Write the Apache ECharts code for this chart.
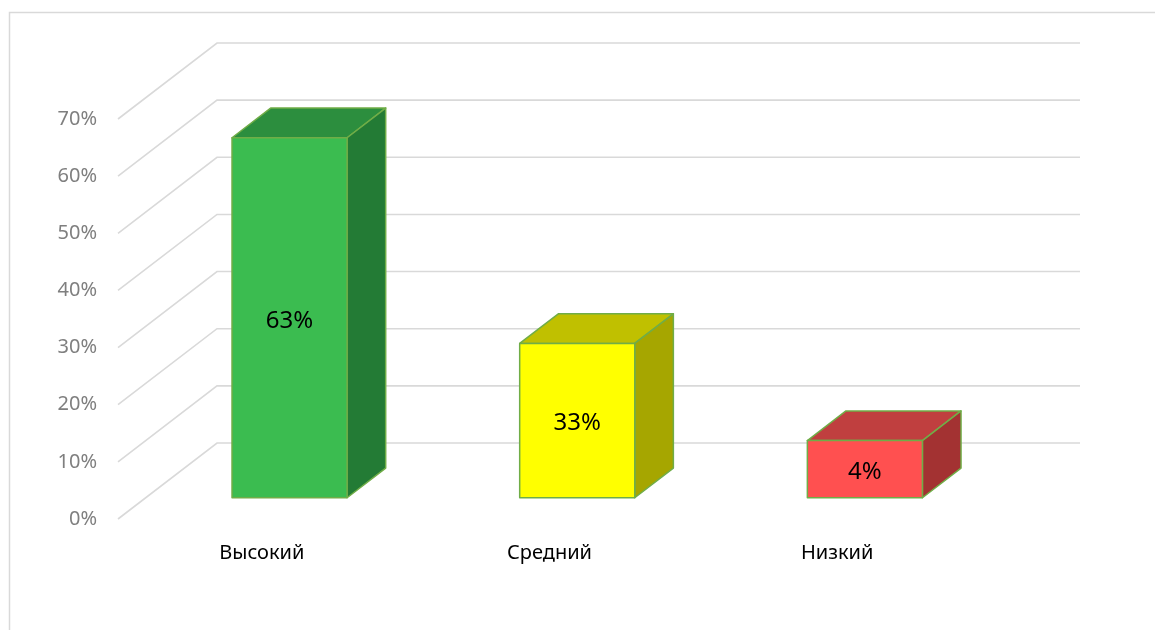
<!DOCTYPE html>
<html lang="ru">
<head>
<meta charset="UTF-8">
<title>Уровни</title>
<script src="https://cdn.jsdelivr.net/npm/echarts@6/dist/echarts.min.js"></script>
<style>
    *{margin:0;padding:0;}
    #main{width:1155px;height:630px;background:#fff;}
</style>
</head>
<body>
<div id="main"></div>
<script>
    var categories = ['Высокий', 'Средний', 'Низкий'];
    var barHeights = [63, 27, 10];          // высота столбцов, как на рисунке
    var barLabels = ['63%', '33%', '4%'];   // подписи данных
    var yTicks = [0, 10, 20, 30, 40, 50, 60, 70];

    var frontColors = ['#3bbc50', '#ffff00', '#ff5050'];
    var topColors = ['#2c8e3e', '#c0c000', '#c03f3f'];
    var sideColors = ['#237b35', '#a6a600', '#a33232'];

    // сдвиг на всю глубину "3D" пространства, px
    var DX = 99, DY = -76;
    var Z0 = 0.28, Z1 = 0.67; // передняя и задняя грань столбцов

    function shift(p, z){
        return [p[0] + DX * z, p[1] + DY * z];
    }

    function renderGrid(params, api){
        var v = api.value(1);
        var w = api.size([1, 0])[0];
        var l = api.coord([0, v]);
        var r = api.coord([categories.length - 1, v]);
        var left = [l[0] - w / 2, l[1]];
        var right = [r[0] + w / 2, r[1]];
        return {
            type: 'polyline',
            shape: {points: [left, shift(left, 1), shift(right, 1)]},
            style: {stroke: '#d9d9d9', lineWidth: 1.6, fill: null}
        };
    }

    function renderBar(params, api){
        var i = api.value(0);
        var v = api.value(1);
        var t = api.coord([i, v]);
        var b = api.coord([i, 0]);
        var hw = api.size([1, 0])[0] * 0.2;
        var tl = shift([t[0] - hw, t[1]], Z0), tr = shift([t[0] + hw, t[1]], Z0);
        var bl = shift([b[0] - hw, b[1]], Z0), br = shift([b[0] + hw, b[1]], Z0);
        var d = Z1 - Z0;
        var tl2 = shift(tl, d), tr2 = shift(tr, d), br2 = shift(br, d);
        var line = {stroke: '#70ad47', lineWidth: 1.5, lineJoin: 'round'};
        return {
            type: 'group',
            children: [
                {type: 'polygon', shape: {points: [tl, tr, tr2, tl2]},
                    style: Object.assign({fill: topColors[i]}, line)},
                {type: 'polygon', shape: {points: [tr, br, br2, tr2]},
                    style: Object.assign({fill: sideColors[i]}, line)},
                {type: 'polygon', shape: {points: [tl, tr, br, bl]},
                    style: Object.assign({fill: frontColors[i]}, line)},
                {type: 'text', style: {
                    text: barLabels[i],
                    x: (tl[0] + tr[0]) / 2, y: (tl[1] + bl[1]) / 2 + 3,
                    align: 'center', verticalAlign: 'middle',
                    fill: '#000', fontSize: 24, fontFamily: 'Noto Sans'
                }}
            ]
        };
    }

    var chart = echarts.init(document.getElementById('main'));
    var option = {
        animation: false,
        textStyle: {fontFamily: 'Noto Sans'},
        graphic: [{
            type: 'rect',
            shape: {x: 9.5, y: 12.5, width: 1300, height: 800},
            style: {fill: null, stroke: '#d9d9d9', lineWidth: 1.5},
            silent: true
        }],
        grid: {left: 118, right: 174, top: 119, bottom: 111},
        xAxis: {
            type: 'category',
            data: categories,
            axisLine: {show: false},
            axisTick: {show: false},
            axisLabel: {color: '#000', fontSize: 20, margin: 24}
        },
        yAxis: {
            type: 'value',
            min: 0, max: 70, interval: 10,
            axisLine: {show: false},
            axisTick: {show: false},
            splitLine: {show: false},
            axisLabel: {color: '#7f7f7f', fontSize: 20, margin: 21, formatter: '{value}%',
                padding: [4, 0, 0, 0]}
        },
        series: [
            {
                type: 'custom',
                renderItem: renderGrid,
                data: yTicks.map(function(v){ return [0, v]; }),
                z: 1, silent: true
            },
            {
                type: 'custom',
                renderItem: renderBar,
                data: barHeights.map(function(v, i){ return [i, v]; }),
                z: 2
            }
        ]
    };
    chart.setOption(option);
</script>
</body>
</html>
